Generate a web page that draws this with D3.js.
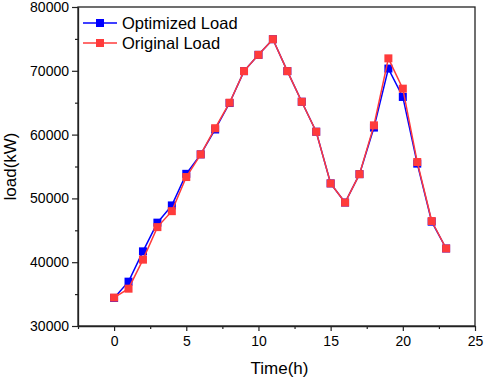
<!DOCTYPE html>
<html>
<head>
<meta charset="utf-8">
<script src="https://cdn.jsdelivr.net/npm/d3@7"></script>
<style>
  body { margin: 0; background: #fff; }
  text { font-family: "Liberation Sans", Arial, sans-serif; }
</style>
</head>
<body>
<div id="wrapper"></div>
<script>
// data
const hours = [0,1,2,3,4,5,6,7,8,9,10,11,12,13,14,15,16,17,18,19,20,21,22,23]
const optimizedLoad = [34400,36950,41700,46200,48900,53850,56900,60800,64950,69950,72500,74950,69950,65150,60450,52350,49350,53800,61100,70350,65900,55450,46350,42150]
const originalLoad = [34450,35850,40400,45500,48000,53350,56900,61000,65000,69950,72500,74950,69950,65150,60450,52350,49350,53800,61450,71950,67200,55700,46450,42150]
const xTicks = [0,5,10,15,20,25]
const yTicks = [30000,40000,50000,60000,70000,80000]

async function drawData() {
  const dimensions = {
    width: 484,
    height: 379,
    margin: { top: 7, right: 9, bottom: 53, left: 78 },
  }
  dimensions.boundedWidth = dimensions.width - dimensions.margin.left - dimensions.margin.right
  dimensions.boundedHeight = dimensions.height - dimensions.margin.top - dimensions.margin.bottom

  const wrapper = d3.select("#wrapper")
    .append("svg")
      .attr("width", dimensions.width)
      .attr("height", dimensions.height)

  const bounds = wrapper.append("g")
    .attr("transform", `translate(${dimensions.margin.left},${dimensions.margin.top})`)

  // scales
  const xScale = d3.scaleLinear()
    .domain([-2.5, 25])
    .range([0, dimensions.boundedWidth])
  const yScale = d3.scaleLinear()
    .domain([30000, 80000])
    .range([dimensions.boundedHeight, 0])

  // frame
  bounds.append("rect")
    .attr("width", dimensions.boundedWidth)
    .attr("height", dimensions.boundedHeight)
    .attr("fill", "none")
    .attr("stroke", "#222")
    .attr("stroke-width", 1.3)

  // minor ticks
  const xMinor = d3.range(-2.5, 25, 5)
  const yMinor = d3.range(35000, 80000, 10000)

  const xAxis = bounds.append("g")
    .attr("transform", `translate(0,${dimensions.boundedHeight})`)
    .call(d3.axisBottom(xScale).tickValues(xTicks).tickSize(5).tickPadding(5).tickSizeOuter(0))
  xAxis.append("g")
    .call(d3.axisBottom(xScale).tickValues(xMinor).tickSize(3).tickFormat("").tickSizeOuter(0))
    .select(".domain").remove()

  const yAxis = bounds.append("g")
    .call(d3.axisLeft(yScale).tickValues(yTicks).tickFormat(d3.format("d")).tickSize(6).tickPadding(3).tickSizeOuter(0))
  yAxis.append("g")
    .call(d3.axisLeft(yScale).tickValues(yMinor).tickSize(3).tickFormat("").tickSizeOuter(0))
    .select(".domain").remove()

  bounds.selectAll(".domain").attr("stroke", "#222").attr("stroke-width", 1.3)
  bounds.selectAll(".tick line").attr("stroke", "#222").attr("stroke-width", 1.2)
  bounds.selectAll(".tick text")
    .attr("fill", "#000")
    .style("font-size", "14px")
    .style("font-family", "'Liberation Sans', Arial, sans-serif")

  // axis titles
  wrapper.append("text")
    .attr("x", dimensions.margin.left + dimensions.boundedWidth / 2 + 3)
    .attr("y", 374)
    .attr("text-anchor", "middle")
    .style("font-size", "17px")
    .text("Time(h)")

  wrapper.append("text")
    .attr("transform", `translate(16,${dimensions.margin.top + dimensions.boundedHeight / 2}) rotate(-90)`)
    .attr("text-anchor", "middle")
    .style("font-size", "17px")
    .text("load(kW)")

  // series
  const series = [
    { name: "Optimized Load", values: optimizedLoad, color: "#0000ff" },
    { name: "Original Load", values: originalLoad, color: "#ff3b3b" },
  ]
  const line = d3.line()
    .x((d, i) => xScale(hours[i]))
    .y(d => yScale(d))

  const markerSize = 8
  series.forEach(s => {
    bounds.append("path")
      .datum(s.values)
      .attr("d", line)
      .attr("fill", "none")
      .attr("stroke", s.color)
      .attr("stroke-width", 1.5)
    bounds.selectAll(null)
      .data(s.values)
      .enter().append("rect")
        .attr("x", (d, i) => xScale(hours[i]) - markerSize / 2)
        .attr("y", d => yScale(d) - markerSize / 2)
        .attr("width", markerSize)
        .attr("height", markerSize)
        .attr("fill", s.color)
  })

  // legend
  const legend = bounds.append("g")
    .attr("transform", "translate(5,16)")
  series.forEach((s, i) => {
    const row = legend.append("g").attr("transform", `translate(0,${i * 20})`)
    row.append("line")
      .attr("x1", 0).attr("x2", 34)
      .attr("stroke", s.color).attr("stroke-width", 1.5)
    row.append("rect")
      .attr("x", 17 - markerSize / 2).attr("y", -markerSize / 2)
      .attr("width", markerSize).attr("height", markerSize)
      .attr("fill", s.color)
    row.append("text")
      .attr("x", 39).attr("y", 6)
      .style("font-size", "16.5px")
      .text(s.name)
  })
}
drawData();
</script>
</body>
</html>
